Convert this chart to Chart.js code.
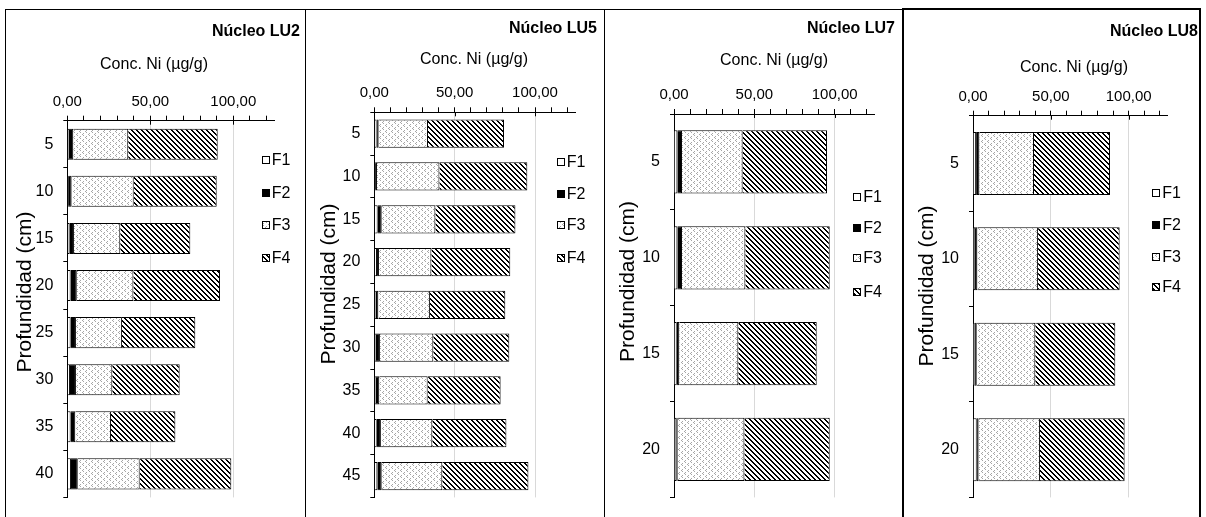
<!DOCTYPE html>
<html><head><meta charset="utf-8">
<script src="https://cdn.jsdelivr.net/npm/chart.js@4.4.1/dist/chart.umd.min.js"></script>
<style>
html,body{margin:0;padding:0;background:#fff;width:1206px;height:517px;overflow:hidden;position:relative}
canvas{position:absolute}
.ln{position:absolute;background:#000}
</style></head><body>
<div class="ln" style="left:5px;top:9px;width:898px;height:1px"></div>
<div class="ln" style="left:903px;top:8px;width:298px;height:2px"></div>
<div class="ln" style="left:5px;top:9px;width:1px;height:510px"></div>
<div class="ln" style="left:305px;top:9px;width:1px;height:510px"></div>
<div class="ln" style="left:604px;top:9px;width:1px;height:510px"></div>
<div class="ln" style="left:902px;top:8px;width:2px;height:510px"></div>
<div class="ln" style="left:1199px;top:8px;width:2px;height:510px"></div>
<canvas id="c1" width="298" height="507" style="left:6px;top:10px"></canvas>
<canvas id="c2" width="297" height="507" style="left:306px;top:10px"></canvas>
<canvas id="c3" width="297" height="507" style="left:605px;top:10px"></canvas>
<canvas id="c4" width="294" height="506" style="left:905px;top:11px"></canvas>
<script>
const FONT = "'Liberation Sans', Arial, sans-serif";

// ---------- data ----------
const seriesNames = ['F1', 'F2', 'F3', 'F4'];
const xTickValues = [0, 10, 20, 30, 40, 50, 60, 70, 80, 90, 100, 110, 120];
const xLabeledTicks = [0, 50, 100];

const lu2Depths = ['5', '10', '15', '20', '25', '30', '35', '40'];
const lu2F1 = [1.0, 0.5, 1.2, 2.0, 2.0, 1.6, 2.0, 2.2];
const lu2F2 = [2.6, 2.1, 2.8, 3.7, 3.2, 3.6, 2.8, 4.1];
const lu2F3 = [33.1, 37.4, 27.9, 34.1, 27.7, 21.9, 21.5, 37.3];
const lu2F4 = [53.9, 50.0, 42.2, 52.2, 44.2, 40.6, 38.8, 55.2];

const lu5Depths = ['5', '10', '15', '20', '25', '30', '35', '40', '45'];
const lu5F1 = [1.4, 0.5, 2.1, 1.7, 1.0, 1.0, 1.0, 1.5, 1.9];
const lu5F2 = [1.3, 1.2, 2.5, 1.2, 1.5, 2.5, 2.1, 2.6, 2.7];
const lu5F3 = [30.7, 38.8, 33.4, 32.6, 32.1, 33.2, 30.1, 32.0, 37.7];
const lu5F4 = [47.3, 54.7, 49.8, 49.1, 46.9, 47.3, 45.4, 46.1, 53.6];

const lu7Depths = ['5', '10', '15', '20'];
const lu7F1 = [2.1, 2.1, 1.7, 1.4];
const lu7F2 = [2.9, 2.9, 1.6, 0.9];
const lu7F3 = [37.7, 39.4, 36.7, 41.5];
const lu7F4 = [52.5, 52.5, 48.8, 53.1];

const lu8Depths = ['5', '10', '15', '20'];
const lu8F1 = [2.0, 1.3, 1.1, 2.4];
const lu8F2 = [2.1, 1.5, 1.3, 1.2];
const lu8F3 = [35.1, 39.0, 37.6, 39.4];
const lu8F4 = [48.8, 52.4, 51.4, 54.4];

// ---------- patterns ----------
function hatchPattern() {
  const n = 5;
  const c = document.createElement('canvas'); c.width = n; c.height = n;
  const g = c.getContext('2d');
  g.fillStyle = '#fff'; g.fillRect(0, 0, n, n);
  g.fillStyle = '#000';
  for (let y = 0; y < n; y++) for (let x = 0; x < n; x++)
    if ((((x - y) % n) + n) % n < 2) g.fillRect(x, y, 1, 1);
  return g.createPattern(c, 'repeat');
}
function dotPattern() {
  const c = document.createElement('canvas'); c.width = 6; c.height = 6;
  const g = c.getContext('2d');
  g.fillStyle = '#fff'; g.fillRect(0, 0, 6, 6);
  g.fillStyle = '#a6a6a6';
  [[2,0],[1,1],[2,2],[5,3],[4,4],[5,5]].forEach(p => g.fillRect(p[0], p[1], 1, 1));
  return g.createPattern(c, 'repeat');
}
const fills = ['#ffffff', '#000000', dotPattern(), hatchPattern()];

function textPlugin(t) {
  return {
    id: 'panelText',
    afterDraw(chart) {
      const g = chart.ctx;
      const x0 = chart.scales.x;
      g.save();
      // major tick marks crossing the axis line (0, 50 and 100)
      g.strokeStyle = '#000'; g.lineWidth = 1;
      xLabeledTicks.forEach(v => {
        const px = Math.round(x0.getPixelForValue(v)) + 0.5;
        g.beginPath(); g.moveTo(px, chart.chartArea.top); g.lineTo(px, chart.chartArea.top + 4); g.stroke();
      });
      g.fillStyle = '#000';
      g.textBaseline = 'middle';
      g.font = 'bold 16px ' + FONT; g.textAlign = 'right';
      g.fillText(t.title, t.titleX, t.titleY);
      g.font = '16px ' + FONT; g.textAlign = 'center';
      g.fillText(t.caption, t.capX, t.capY);
      g.save();
      g.translate(t.yTitleX, t.yTitleY); g.rotate(-Math.PI / 2);
      g.font = '21px ' + FONT; g.textAlign = 'center';
      g.fillText(t.yTitle, 0, 0);
      g.restore();
      g.font = '16px ' + FONT; g.textAlign = 'left';
      chart.data.datasets.forEach((ds, i) => {
        const y = Math.round(t.legendY[i]);
        const x = Math.round(t.legendX);
        g.fillStyle = ds.backgroundColor; g.fillRect(x, y - 4, 8, 8);
        g.strokeStyle = '#000'; g.lineWidth = 1; g.strokeRect(x + 0.5, y - 3.5, 7, 7);
        g.fillStyle = '#000'; g.fillText(ds.label, t.legendTextX, y + 1);
      });
      g.restore();
    }
  };
}

function buildChart(id, depths, series, geo, texts) {
  new Chart(document.getElementById(id), {
    type: 'bar',
    data: {
      labels: depths,
      datasets: seriesNames.map((n, i) => ({
        label: n, data: series[i], backgroundColor: fills[i],
        borderColor: '#000', borderWidth: 1,
        barPercentage: 0.66, categoryPercentage: 1
      }))
    },
    options: {
      indexAxis: 'y', responsive: false, animation: false,
      layout: { padding: geo.padding },
      plugins: { legend: { display: false }, tooltip: { enabled: false }, title: { display: false } },
      scales: {
        x: {
          position: 'top', stacked: true, min: 0, max: 125,
          afterBuildTicks: s => { s.ticks = xTickValues.map(v => ({ value: v })); },
          afterFit: s => { s.height = geo.xh; },
          ticks: {
            autoSkip: false, maxRotation: 0, padding: 5, color: '#000',
            font: { family: FONT, size: 15 },
            callback: v => xLabeledTicks.includes(v) ? v.toFixed(2).replace('.', ',') : ''
          },
          grid: {
            color: c => (c.tick && (c.tick.value === 50 || c.tick.value === 100)) ? '#d9d9d9' : 'rgba(0,0,0,0)',
            tickColor: '#000', tickLength: 5, lineWidth: 1
          },
          border: { color: '#000', width: 1 }
        },
        y: {
          stacked: true,
          afterFit: s => { s.width = geo.yw; },
          ticks: { autoSkip: false, padding: 10, color: '#000', font: { family: FONT, size: 16 } },
          grid: { offset: true, drawOnChartArea: false, tickColor: '#000', tickLength: 4 },
          border: { color: '#000', width: 1 }
        }
      }
    },
    plugins: [textPlugin(texts)]
  });
}

const caption = 'Conc. Ni (µg/g)';
const yTitle = 'Profundidad (cm)';

buildChart('c1', lu2Depths, [lu2F1, lu2F2, lu2F3, lu2F4],
  { padding: { left: 0, right: 29.2, top: 65.7, bottom: 5.3 }, xh: 45, yw: 61.3 },
  { title: 'Núcleo LU2', titleX: 294, titleY: 21.7, caption, capX: 148, capY: 54.5, yTitle, yTitleX: 19, yTitleY: 282,
    legendX: 256, legendTextX: 265.7, legendY: [150, 182.5, 215, 248] });

buildChart('c2', lu5Depths, [lu5F1, lu5F2, lu5F3, lu5F4],
  { padding: { left: 0, right: 27.8, top: 57.3, bottom: 11.3 }, xh: 45, yw: 68.3 },
  { title: 'Núcleo LU5', titleX: 291, titleY: 18.3, caption, capX: 168, capY: 49.5, yTitle, yTitleX: 23, yTitleY: 274,
    legendX: 251, legendTextX: 260.7, legendY: [152, 184, 215, 248] });

buildChart('c3', lu7Depths, [lu7F1, lu7F2, lu7F3, lu7F4],
  { padding: { left: 0, right: 27.1, top: 59, bottom: 10.3 }, xh: 45, yw: 69 },
  { title: 'Núcleo LU7', titleX: 290, titleY: 18.7, caption, capX: 169, capY: 50.8, yTitle, yTitleX: 23, yTitleY: 271.5,
    legendX: 248, legendTextX: 258.3, legendY: [186.7, 218.3, 248.3, 281.7] });

buildChart('c4', lu8Depths, [lu8F1, lu8F2, lu8F3, lu8F4],
  { padding: { left: 0, right: 31.4, top: 59.7, bottom: 8.7 }, xh: 45, yw: 68 },
  { title: 'Núcleo LU8', titleX: 293, titleY: 20.7, caption, capX: 169, capY: 57, yTitle, yTitleX: 22.5, yTitleY: 275,
    legendX: 247, legendTextX: 257.3, legendY: [181.7, 214, 245.7, 276.3] });
</script>
</body></html>
